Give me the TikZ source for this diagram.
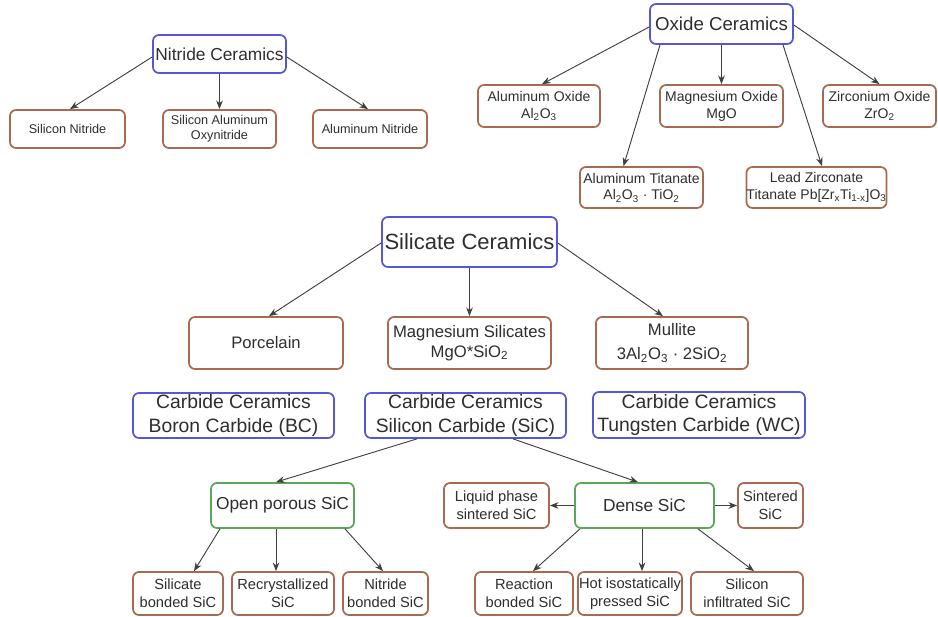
\documentclass[tikz,border=0pt]{standalone}
\usepackage{fontspec}
\setmainfont{Liberation Sans}
\usetikzlibrary{calc,arrows.meta}
\definecolor{headblue}{HTML}{5656D8}
\definecolor{leafbrown}{HTML}{A8694F}
\definecolor{midgreen}{HTML}{5AA65A}
\definecolor{inkgray}{HTML}{2E2E2E}
\definecolor{linegray}{HTML}{404040}
\tikzset{
  wh/.style 2 args={minimum width=#1*0.75pt, minimum height=#2*0.75pt},
  boxbase/.style={rectangle, rounded corners=4.5pt, line width=1.3pt, fill=white,
    inner sep=0pt, align=center, text=inkgray},
  head/.style={boxbase, draw=headblue},
  leaf/.style={boxbase, draw=leafbrown},
  mid/.style={boxbase, draw=midgreen},
  arr/.style={draw=linegray, line width=0.7pt, -{Stealth[length=6.5pt,width=5pt]}},
  fs/.style={font=\fontsize{#1}{\fpeval{#1*1.2}}\selectfont},
}
\begin{document}
\begin{tikzpicture}[x=0.75pt, y=-0.75pt]
\useasboundingbox (0,0) rectangle (938,617);

% Nitride ceramics
\node[head, wh={133}{38}, fs=13] (nit) at (219.5,54) {Nitride Ceramics};
\node[leaf, wh={115}{38}, fs=9.5] (sn) at (67.5,129) {Silicon Nitride};
\node[leaf, wh={113}{38}, fs=9.5, align=center] (sao) at (219.5,129) {Silicon Aluminum\\Oxynitride};
\node[leaf, wh={114}{38}, fs=9.5] (an) at (370,129) {Aluminum Nitride};
\draw[arr] ($(nit.west)+(0,3)$) -- ($(sn.north)+(2.5,0)$);
\draw[arr] (nit.south) -- (sao.north);
\draw[arr] ($(nit.east)+(0,3)$) -- ($(an.north)+(-2,0)$);

% Oxide ceramics
\node[head, wh={143}{40}, fs=14] (ox) at (721.5,24) {Oxide Ceramics};
\node[leaf, wh={122}{42}, fs=10.5] (ao) at (539,106) {Aluminum Oxide\\Al\textsubscript{2}O\textsubscript{3}};
\node[leaf, wh={123}{42}, fs=10.5] (mgo) at (721.5,106) {Magnesium Oxide\\MgO};
\node[leaf, wh={113}{42}, fs=10.5] (zo) at (879.5,106) {Zirconium Oxide\\ZrO\textsubscript{2}};
\node[leaf, wh={123}{41}, fs=10.5] (at) at (641.5,187.5) {Aluminum Titanate\\Al\textsubscript{2}O\textsubscript{3} · TiO\textsubscript{2}};
\node[leaf, wh={137}{41}, fs=10.5] (lz) at (816.5,187.5) {Lead Zirconate\\Titanate Pb[Zr\textsubscript{x}Ti\textsubscript{1-x}]O\textsubscript{3}};
\draw[arr] ($(ox.west)+(0,3)$) -- ($(ao.north)+(3,0)$);
\draw[arr] ($(ox.south)+(-61.5,0)$) -- ($(at.north)+(-18,0)$);
\draw[arr] (ox.south) -- (mgo.north);
\draw[arr] ($(ox.south)+(61.5,0)$) -- ($(lz.north)+(5.5,0)$);
\draw[arr] ($(ox.east)+(0,1)$) -- (zo.north);

% Silicate ceramics
\node[head, wh={175}{50}, fs=16.5] (sil) at (469.5,242) {Silicate Ceramics};
\node[leaf, wh={154}{52}, fs=12.5] (por) at (266,343) {Porcelain};
\node[leaf, wh={163}{52}, fs=12.5] (mgs) at (469.5,343) {Magnesium Silicates\\MgO*SiO\textsubscript{2}};
\node[leaf, wh={152}{52}, fs=12.5] (mul) at (672,343) {Mullite\\[3pt]3Al\textsubscript{2}O\textsubscript{3} · 2SiO\textsubscript{2}};
\draw[arr] ($(sil.west)+(0,1)$) -- ($(por.north)+(3,0)$);
\draw[arr] (sil.south) -- (mgs.north);
\draw[arr] ($(sil.east)+(0,1)$) -- ($(mul.north)+(-9,0)$);

% Carbide ceramics
\node[head, wh={201}{45}, fs=14.5] (bc) at (233.5,415.5) {Carbide Ceramics\\Boron Carbide (BC)};
\node[head, wh={201}{45}, fs=14.5] (sic) at (465.5,415.5) {Carbide Ceramics\\Silicon Carbide (SiC)};
\node[head, wh={212}{46}, fs=14.5] (wc) at (699,415) {Carbide Ceramics\\Tungsten Carbide (WC)};

% Silicon carbide families
\node[mid, wh={143}{45}, fs=13] (op) at (282.5,505.5) {Open porous SiC};
\node[mid, wh={139}{45}, fs=13] (ds) at (644.5,505.5) {Dense SiC};
\node[leaf, wh={105}{45}, fs=11] (lq) at (496.5,505.5) {Liquid phase\\sintered SiC};
\node[leaf, wh={65}{45}, fs=11] (st) at (770.5,505.5) {Sintered\\SiC};
\draw[arr] ($(sic.south)+(-48.5,0)$) -- ($(op.north)+(-6.5,0)$);
\draw[arr] ($(sic.south)+(47.5,0)$) -- ($(ds.north)+(-6.5,0)$);
\draw[arr] (ds.west) -- (lq.east);
\draw[arr] (ds.east) -- (st.west);

% Silicon carbide grades
\node[leaf, wh={90}{43}, fs=11] (sb) at (178,593.5) {Silicate\\bonded SiC};
\node[leaf, wh={102}{43}, fs=11] (rc) at (283,593.5) {Recrystallized\\SiC};
\node[leaf, wh={85}{43}, fs=11] (nb) at (385.5,593.5) {Nitride\\bonded SiC};
\node[leaf, wh={98}{43}, fs=11] (rb) at (524,593.5) {Reaction\\bonded SiC};
\node[leaf, wh={104}{43}, fs=11] (hi) at (630,593.5) {Hot isostatically\\pressed SiC};
\node[leaf, wh={112}{43}, fs=11] (si) at (747,593.5) {Silicon\\infiltrated SiC};
\draw[arr] ($(op.south)+(-62.5,0)$) -- ($(sb.north)+(16,0)$);
\draw[arr] ($(op.south)+(-6.5,0)$) -- ($(rc.north)+(-7,0)$);
\draw[arr] ($(op.south)+(62.5,0)$) -- ($(nb.north)+(-2.5,0)$);
\draw[arr] ($(ds.south)+(-64.5,0)$) -- ($(rb.north)+(9,0)$);
\draw[arr] ($(ds.south)+(-2.5,0)$) -- ($(hi.north)+(12,0)$);
\draw[arr] ($(ds.south)+(53.5,0)$) -- ($(si.north)+(7,0)$);
\end{tikzpicture}
\end{document}
